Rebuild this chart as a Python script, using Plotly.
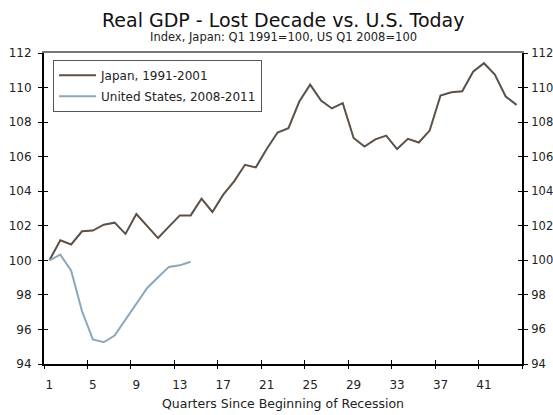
import plotly.graph_objects as go

quarters = list(range(1, 45))
japan = [100.0, 101.16, 100.92, 101.68, 101.72, 102.06, 102.18, 101.53, 102.68, 102.0,
         101.29, 101.95, 102.6, 102.6, 103.57, 102.8, 103.8, 104.57, 105.53, 105.38,
         106.44, 107.4, 107.65, 109.19, 110.17, 109.25, 108.79, 109.1, 107.08, 106.59,
         107.0, 107.22, 106.44, 107.03, 106.82, 107.51, 109.54, 109.73, 109.79, 110.92,
         111.41, 110.75, 109.48, 109.0]
us = [100.0, 100.33, 99.4, 97.05, 95.42, 95.26, 95.65, 96.57, 97.54, 98.4,
      99.02, 99.62, 99.71, 99.92]
x_labels = [1, 5, 9, 13, 17, 21, 25, 29, 33, 37, 41]
x_boundaries = [0.5 + 4 * i for i in range(12)]
y_ticks = list(range(94, 113, 2))

FONT = "DejaVu Sans"
TXT = "#222222"

fig = go.Figure()
fig.add_trace(go.Scatter(x=quarters[:len(japan)], y=japan, mode="lines",
                         name="Japan, 1991-2001", legendgroup="a",
                         line=dict(color="#5d5046", width=2)))
fig.add_trace(go.Scatter(x=quarters[:len(us)], y=us, mode="lines",
                         name="United States, 2008-2011", legendgroup="b",
                         line=dict(color="#8aa7bb", width=2)))
# helper traces for overlay axes (tick decorations)
for xa, ya in [("x2", "y3"), ("x3", "y4"), ("x", "y2"), ("x4", "y")]:
    fig.add_trace(go.Scatter(x=[None], y=[None], xaxis=xa, yaxis=ya,
                             showlegend=False, hoverinfo="skip"))

xr = [0.5, 44.5]
yr = [94, 112]
common_x = dict(range=xr, showgrid=False, zeroline=False, fixedrange=True, automargin=False)
common_y = dict(range=yr, showgrid=False, zeroline=False, tickvals=y_ticks, automargin=False)

fig.update_layout(
    width=553, height=415,
    margin=dict(l=44, r=31, t=53, b=51, autoexpand=False),
    paper_bgcolor="white", plot_bgcolor="white",
    font=dict(family=FONT, size=11, color=TXT),
    annotations=[
        dict(text="Real GDP - Lost Decade vs. U.S. Today",
             xref="paper", yref="paper", x=0.5, y=1.0, yshift=33,
             xanchor="center", yanchor="middle", showarrow=False,
             font=dict(family=FONT, size=19, color="#111111")),
        dict(text="Index, Japan: Q1 1991=100, US Q1 2008=100",
             xref="paper", yref="paper", x=0.5, y=1.0, yshift=16,
             xanchor="center", yanchor="middle", showarrow=False,
             font=dict(family=FONT, size=11.5, color=TXT)),
    ],
    xaxis=dict(**common_x, tickvals=x_labels, ticktext=[str(v) for v in x_labels],
               ticks="", showline=True, linecolor="black", linewidth=1.5,
               ticklabelstandoff=9, tickfont=dict(size=12),
               title=dict(text="Quarters Since Beginning of Recession",
                          font=dict(size=12.5), standoff=8)),
    xaxis2=dict(**common_x, overlaying="x", anchor="y", side="bottom",
                tickvals=x_boundaries, ticks="outside", ticklen=4, tickwidth=1,
                tickcolor="black", showticklabels=False, showline=False),
    xaxis3=dict(**common_x, overlaying="x", anchor="y", side="bottom",
                tickvals=x_boundaries, ticks="inside", ticklen=4, tickwidth=1,
                tickcolor="black", showticklabels=False, showline=False),
    xaxis4=dict(**common_x, overlaying="x", anchor="y", side="top",
                showticklabels=False, ticks="", showline=True,
                linecolor="#777777", linewidth=1.5),
    yaxis=dict(**common_y, side="left", ticks="outside", ticklen=4, tickwidth=1,
               tickcolor="black", showline=True, linecolor="black", linewidth=2,
               ticklabelstandoff=4, tickfont=dict(size=12)),
    yaxis2=dict(**common_y, overlaying="y", side="right", anchor="x",
                ticks="outside", ticklen=4, tickwidth=1, tickcolor="black",
                showline=True, linecolor="black", linewidth=2, ticklabelstandoff=1,
                tickfont=dict(size=11.5)),
    yaxis3=dict(**common_y, overlaying="y", side="left", anchor="x",
                ticks="inside", ticklen=4, tickwidth=1, tickcolor="black",
                showticklabels=False, showline=False),
    yaxis4=dict(**common_y, overlaying="y", side="right", anchor="x",
                ticks="inside", ticklen=4, tickwidth=1, tickcolor="black",
                showticklabels=False, showline=False),
    legend=dict(x=0.019, y=0.978, xanchor="left", yanchor="top",
                bordercolor="#555555", borderwidth=1, bgcolor="white",
                traceorder="grouped", tracegroupgap=2, itemwidth=37,
                font=dict(family=FONT, size=12, color=TXT)),
    showlegend=True,
)

fig.write_html("out.html", config={"displayModeBar": False},
               post_script="document.body.style.margin='0';document.body.style.overflow='hidden';")
